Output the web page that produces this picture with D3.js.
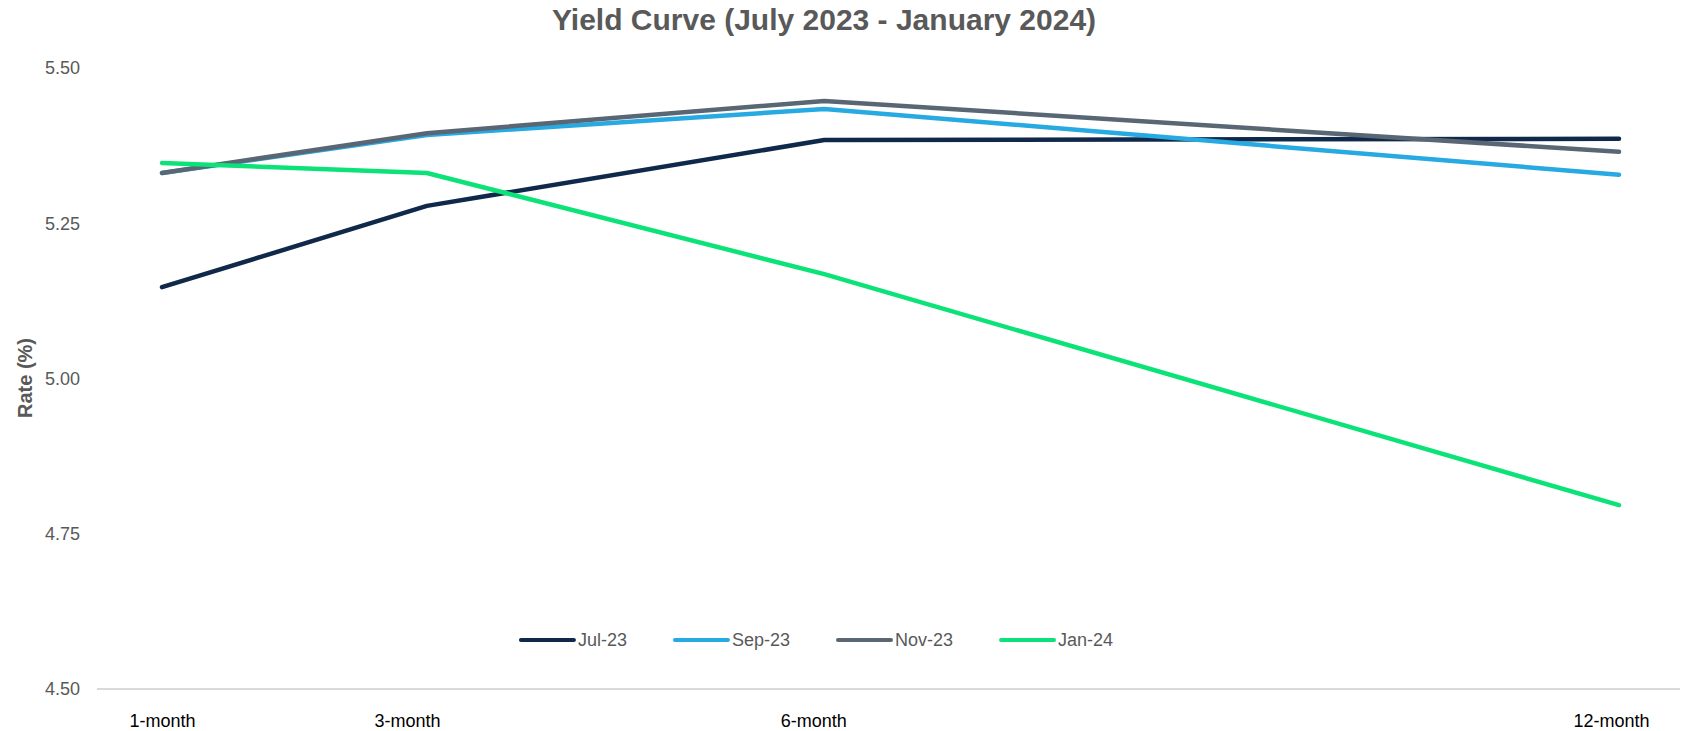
<!DOCTYPE html>
<html>
<head>
<meta charset="utf-8">
<script src="https://cdn.jsdelivr.net/npm/d3@7"></script>
<style>
  body { margin: 0; background: #fff; }
  svg { font-family: "Liberation Sans", Arial, sans-serif; }
</style>
</head>
<body>
<div id="wrapper"></div>
<script>
const tenors = [1, 3, 6, 12]
const tenorLabels = ["1-month", "3-month", "6-month", "12-month"]
const seriesNames = ["Jul-23", "Sep-23", "Nov-23", "Jan-24"]
const jul23 = [5.147, 5.278, 5.384, 5.386]
const sep23 = [5.331, 5.392, 5.434, 5.328]
const nov23 = [5.331, 5.395, 5.447, 5.365]
const jan24 = [5.347, 5.331, 5.168, 4.796]
const yTicks = [4.5, 4.75, 5.0, 5.25, 5.5]
const colors = ["#10294a", "#27a9e1", "#596673", "#0be378"]

const seriesValues = [jul23, sep23, nov23, jan24]

function drawChart() {
  const dimensions = {
    width: 1683,
    height: 731,
  }

  const wrapper = d3.select("#wrapper")
    .append("svg")
      .attr("width", dimensions.width)
      .attr("height", dimensions.height)

  const xScale = d3.scaleLinear()
    .domain([1, 12])
    .range([162, 1619])

  const yScale = d3.scaleLinear()
    .domain([4.5, 5.5])
    .range([689, 68])

  // baseline
  wrapper.append("line")
    .attr("x1", 97)
    .attr("x2", 1680)
    .attr("y1", yScale(4.5))
    .attr("y2", yScale(4.5))
    .attr("stroke", "#d9d9d9")
    .attr("stroke-width", 2)

  const yAxis = wrapper.append("g")
    .attr("transform", "translate(97,0)")
    .call(d3.axisLeft(yScale)
      .tickValues(yTicks)
      .tickFormat(d3.format(".2f"))
      .tickSize(0)
      .tickPadding(17))
  yAxis.select(".domain").remove()
  yAxis.selectAll("text")
    .attr("fill", "#595959")
    .style("font-size", "18px")
    .style("font-family", "Liberation Sans, Arial, sans-serif")

  // category labels sit a little left of their points, like the original
  const labelNudge = [0, -20, -11, -8]
  const xAxis = wrapper.append("g")
    .attr("transform", `translate(0,${yScale(4.5)})`)
    .call(d3.axisBottom(xScale)
      .tickValues(tenors)
      .tickFormat((d, i) => tenorLabels[i])
      .tickSize(0)
      .tickPadding(25))
  xAxis.select(".domain").remove()
  xAxis.selectAll("text")
    .attr("dx", (d, i) => labelNudge[i])
    .attr("fill", "#000")
    .style("font-size", "18px")
    .style("font-family", "Liberation Sans, Arial, sans-serif")

  const lineGenerator = d3.line()
    .x((d, i) => xScale(tenors[i]))
    .y(d => yScale(d))

  seriesValues.forEach((values, i) => {
    wrapper.append("path")
      .datum(values)
      .attr("d", lineGenerator)
      .attr("fill", "none")
      .attr("stroke", colors[i])
      .attr("stroke-width", 4.5)
      .attr("stroke-linecap", "round")
      .attr("stroke-linejoin", "round")
  })

  // title
  wrapper.append("text")
    .attr("x", 824)
    .attr("y", 30)
    .attr("text-anchor", "middle")
    .attr("fill", "#595959")
    .style("font-size", "30px")
    .style("font-weight", "bold")
    .text("Yield Curve (July 2023 - January 2024)")

  // y label
  wrapper.append("text")
    .attr("transform", "translate(32,378) rotate(-90)")
    .attr("text-anchor", "middle")
    .attr("fill", "#595959")
    .style("font-size", "20px")
    .style("font-weight", "bold")
    .text("Rate (%)")

  // legend, laid out by text width and centred
  const legend = wrapper.append("g")
  let cursor = 0
  seriesNames.forEach((name, i) => {
    const item = legend.append("g")
      .attr("transform", `translate(${cursor},0)`)
    item.append("line")
      .attr("x1", 0)
      .attr("x2", 53)
      .attr("y1", 0)
      .attr("y2", 0)
      .attr("stroke", colors[i])
      .attr("stroke-width", 4)
      .attr("stroke-linecap", "round")
    const label = item.append("text")
      .attr("x", 57)
      .attr("y", 0)
      .attr("dy", "0.35em")
      .attr("fill", "#595959")
      .style("font-size", "18px")
      .text(name)
    cursor += 57 + label.node().getComputedTextLength() + 48
  })
  const legendWidth = cursor - 48
  legend.attr("transform", `translate(${817 - legendWidth / 2},640)`)
}

drawChart()
</script>
</body>
</html>
